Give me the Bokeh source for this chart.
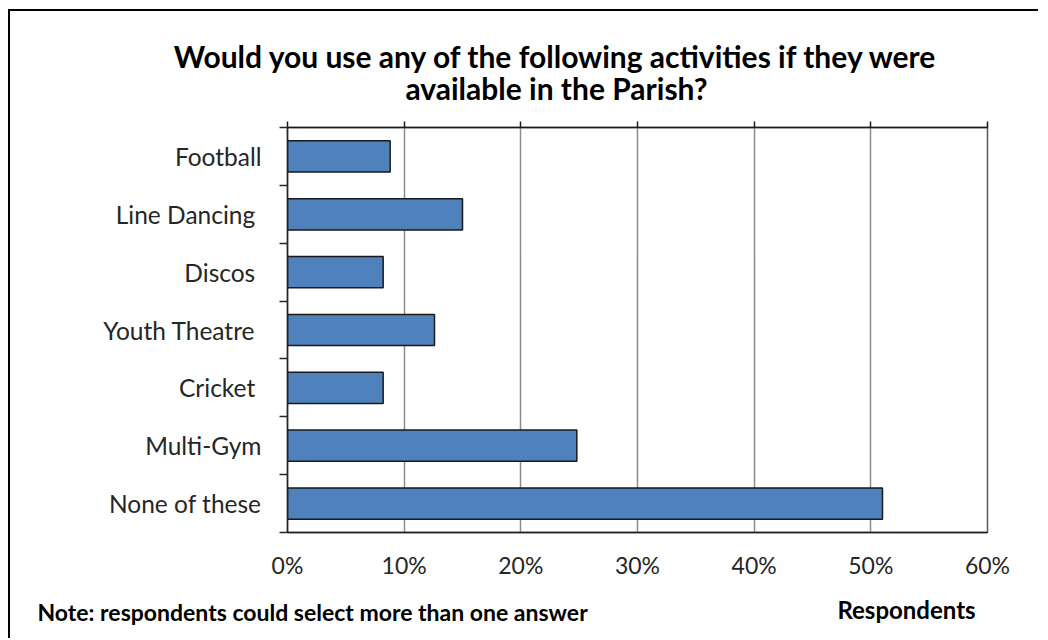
from bokeh.plotting import figure
from bokeh.models import (Range1d, LinearAxis, FixedTicker, Grid, Label, ColumnDataSource)
from bokeh.embed import file_html
from bokeh.resources import INLINE

categories = ["Football", "Line Dancing ", "Discos ", "Youth Theatre ", "Cricket ",
              "Multi-Gym", "None of these"]
values = [8.8, 15.0, 8.2, 12.6, 8.2, 24.8, 51.0]
x_ticks = [0, 10, 20, 30, 40, 50, 60]
x_tick_labels = ["0%", "10%", "20%", "30%", "40%", "50%", "60%"]
title_lines = ["Would you use any of the following activities if they were",
               "available in the Parish?"]
note_text = "Note: respondents could select more than one answer"
x_axis_title = "Respondents"

FONT = "Lato"
TEXT_COLOR = "#262626"

n = len(categories)
slot = [n - i - 0.5 for i in range(n)]  # first category at the top
src = ColumnDataSource(dict(cat=categories, val=values, pos=slot))

p = figure(width=1030, height=629, output_backend="svg", toolbar_location=None,
           x_range=Range1d(0, 60), y_range=Range1d(0, n),
           x_axis_type=None, y_axis_type=None,
           min_border_left=277, min_border_right=53, min_border_top=116, min_border_bottom=108)
p.title.visible = False
p.styles = {"margin-left": "8px", "margin-top": "9px",
            "border-top": "2px solid #000000", "border-left": "2px solid #000000"}
p.background_fill_color = "white"
p.border_fill_color = "white"
p.outline_line_color = "#595959"
p.outline_line_width = 1.5

xticker = FixedTicker(ticks=x_ticks)
p.add_layout(Grid(dimension=0, ticker=xticker, grid_line_color="#8c8c8c", grid_line_width=1.5))

p.hbar(y="pos", right="val", left=0, height=0.54, source=src,
       fill_color="#4F81BD", line_color="#1a1a1a", line_width=1.5)

xb = LinearAxis(ticker=xticker,
                major_label_overrides={t: l for t, l in zip(x_ticks, x_tick_labels)},
                major_tick_out=0, major_tick_in=0, minor_tick_out=0, minor_tick_in=0,
                axis_line_color="#1a1a1a", axis_line_width=1.5,
                major_label_text_font=FONT, major_label_text_font_size="23px",
                major_label_text_color=TEXT_COLOR, major_label_standoff=18)
p.add_layout(xb, "below")

xt = LinearAxis(ticker=xticker,
                major_label_overrides={t: "" for t in x_ticks},
                major_tick_out=6, major_tick_in=0, minor_tick_out=0, minor_tick_in=0,
                major_tick_line_color="#1a1a1a", major_tick_line_width=1.5,
                axis_line_color="#1a1a1a", axis_line_width=1.5,
                major_label_text_font_size="0px", major_label_standoff=0)
p.add_layout(xt, "above")

bounds = list(range(n + 1))
yl = LinearAxis(ticker=FixedTicker(ticks=bounds),
                major_label_overrides={b: "" for b in bounds},
                major_tick_out=8, major_tick_in=0, minor_tick_out=0, minor_tick_in=0,
                major_tick_line_color="#262626", major_tick_line_width=1.5,
                axis_line_color="#262626", axis_line_width=1.5,
                major_label_text_font_size="0px", major_label_standoff=0)
p.add_layout(yl, "left")

yc = LinearAxis(ticker=FixedTicker(ticks=slot),
                major_label_overrides={s: c for s, c in zip(slot, categories)},
                axis_line_color=None, major_tick_line_color=None,
                major_tick_out=0, major_tick_in=0, minor_tick_out=0, minor_tick_in=0,
                major_label_text_font=FONT, major_label_text_font_size="24.5px",
                major_label_text_color=TEXT_COLOR, major_label_standoff=18)
p.add_layout(yc, "left")

# texts placed in side panels (screen units relative to their panel box)
p.add_layout(Label(x=269, y=49.5, x_units="screen", y_units="screen",
                   text="\n".join(title_lines), text_line_height=0.87,
                   text_font=FONT, text_font_style="bold", text_font_size="30px",
                   text_color="#000000", text_align="center", text_baseline="middle"), "above")
p.add_layout(Label(x=-250, y=-2, x_units="screen", y_units="screen", text=note_text,
                   text_font=FONT, text_font_style="bold", text_font_size="23px",
                   text_color="#000000", text_align="left", text_baseline="middle"), "below")
p.add_layout(Label(x=619, y=29, x_units="screen", y_units="screen", text=x_axis_title,
                   text_font=FONT, text_font_style="bold", text_font_size="24px",
                   text_color="#000000", text_align="center", text_baseline="middle"), "below")

open("out.html", "w").write(file_html(p, INLINE))
